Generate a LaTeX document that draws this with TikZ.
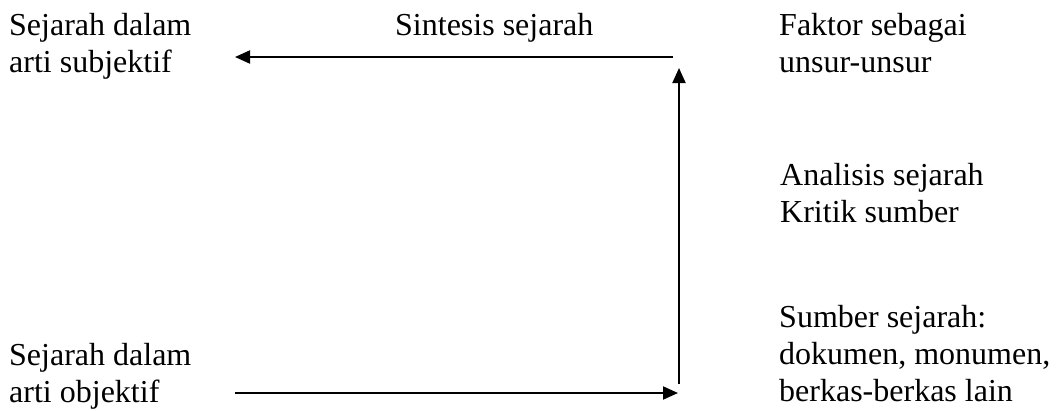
\documentclass[tikz,border=0pt]{standalone}
\usepackage{fontspec}
\setmainfont{Liberation Serif}
\usetikzlibrary{arrows.meta, positioning, calc}

\begin{document}
\begin{tikzpicture}[x=1pt, y=-1pt, >={Triangle[length=15pt, width=13pt]},
        lbl/.style={anchor=base west, inner sep=0pt, align=left,
            font=\fontsize{32}{36.8}\selectfont},
        flow/.style={->, line width=2pt}]
        \useasboundingbox (0,0) rectangle (1056,410);

        % Labels (placed by the baseline of their last line)
        \node[lbl] (subj) at (9,72) {Sejarah dalam\\arti subjektif};
        \node[lbl] (sint) at (395,35) {Sintesis sejarah};
        \node[lbl] (faktor) at (779,72) {Faktor sebagai\\unsur-unsur};
        \node[lbl] (anal) at (780,222) {Analisis sejarah\\Kritik sumber};
        \node[lbl] (obj) at (9,402) {Sejarah dalam\\arti objektif};
        \node[lbl] (sumber) at (779,401) {Sumber sejarah:\\dokumen, monumen,\\berkas-berkas lain};

        % Arrow ends
        \coordinate (topR) at (673,57);
        \coordinate (topL) at (235,57);
        \coordinate (upB) at (679,384);
        \coordinate (upT) at (679,68);
        \coordinate (botL) at (235,393);
        \coordinate (botR) at (678,393);

        % Arrows
        \draw[flow] (botL) -- (botR);
        \draw[flow] (upB) -- (upT);
        \draw[flow] (topR) -- (topL);
    \end{tikzpicture}
\end{document}
